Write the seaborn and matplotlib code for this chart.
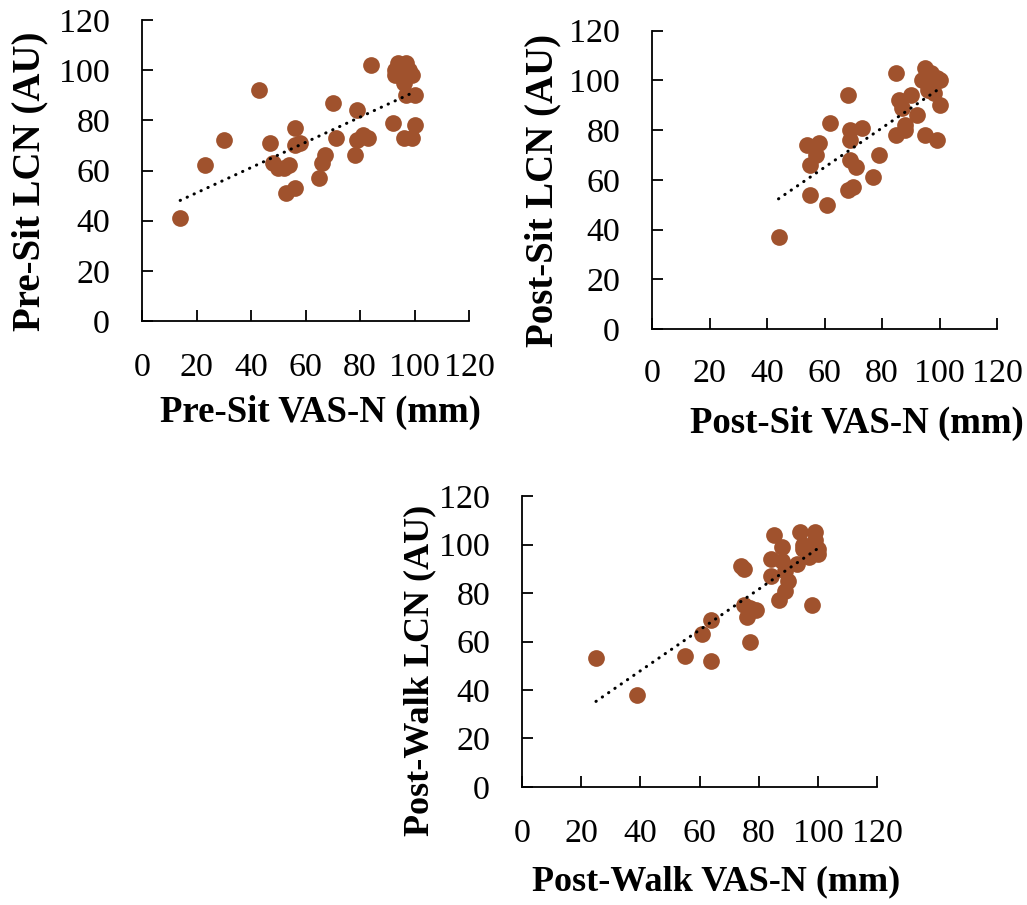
import numpy as np
import pandas as pd
import matplotlib
matplotlib.use("Agg")
import matplotlib.pyplot as plt
import seaborn as sns

# values
pre_sit_vas = [14, 23, 30, 43, 47, 48, 50, 52, 54, 53, 56, 56, 56, 58, 65, 66, 67, 70,
               71, 78, 79, 79, 81, 83, 84, 92, 94, 93, 93, 97, 98, 99, 96, 97, 100, 96,
               99, 100, 96, 94]
pre_sit_lcn = [41, 62, 72, 92, 71, 63, 61, 61, 62, 51, 53, 77, 70, 71, 57, 63, 66, 87,
               73, 66, 84, 72, 74, 73, 102, 79, 103, 100, 98, 103, 100, 98, 95, 90, 90, 73,
               73, 78, 99, 101]

post_sit_vas = [44, 54, 58, 57, 55, 55, 61, 62, 68, 69, 69, 69, 71, 68, 70, 73, 77, 79,
                85, 86, 87, 90, 88, 88, 85, 92, 95, 99, 100, 95, 97, 99, 94, 96, 98, 96,
                98, 100]
post_sit_lcn = [37, 74, 75, 70, 66, 54, 50, 83, 94, 80, 76, 68, 65, 56, 57, 81, 61, 70,
                103, 92, 89, 94, 82, 80, 78, 86, 78, 76, 90, 105, 103, 101, 100, 99, 99, 96,
                95, 100]

post_walk_vas = [25, 39, 55, 61, 64, 64, 74, 75, 75, 77, 79, 76, 77, 84, 84, 85, 88, 88,
                 87, 89, 90, 89, 93, 94, 98, 95, 99, 99, 100, 97, 95, 98, 100]
post_walk_lcn = [53, 38, 54, 63, 69, 52, 91, 90, 75, 74, 73, 70, 60, 87, 94, 104, 99, 93,
                 77, 81, 85, 89, 92, 105, 75, 98, 105, 102, 96, 95, 100, 99, 98]

x_ticks = [0, 20, 40, 60, 80, 100, 120]
y_ticks = [0, 20, 40, 60, 80, 100, 120]

sns.set_theme(style="ticks")
plt.rcParams["font.family"] = ["Liberation Serif", "DejaVu Serif"]

DOT = "#A0522D"

fig = plt.figure(figsize=(10.27, 9.05), dpi=100)

# data, labels, axes rect, xlabel pos, ylabel pos, xlabel size, ylabel size, x tick pad
panels = [
    (pre_sit_vas, pre_sit_lcn, "Pre-Sit VAS-N (mm)", "Pre-Sit LCN (AU)",
     [0.1383, 0.6453, 0.3184, 0.3326], (0.546, -0.245), (-0.285, 0.465), 26.5, 28, 23),
    (post_sit_vas, post_sit_lcn, "Post-Sit VAS-N (mm)", "Post-Sit LCN (AU)",
     [0.6349, 0.6365, 0.3359, 0.3296], (0.594, -0.258), (-0.262, 0.463), 26.5, 28, 21.5),
    (post_walk_vas, post_walk_lcn, "Post-Walk VAS-N (mm)", "Post-Walk LCN (AU)",
     [0.5083, 0.1304, 0.3457, 0.3215], (0.546, -0.268), (-0.24, 0.402), 26, 26, 23),
]

for vas, lcn, xlab, ylab, rect, xl_pos, yl_pos, xl_size, yl_size, xpad in panels:
    ax = fig.add_axes(rect)
    df = pd.DataFrame({"vas": vas, "lcn": lcn})
    sns.scatterplot(data=df, x="vas", y="lcn", ax=ax, color=DOT, s=145,
                    linewidth=0, zorder=3)
    sns.regplot(data=df, x="vas", y="lcn", ax=ax, scatter=False, ci=None,
                truncate=True,
                line_kws=dict(color="black", lw=2.2, linestyle=(0, (0.1, 2.4)),
                              dash_capstyle="round", zorder=4))
    ax.set_xlim(0, 120)
    ax.set_ylim(0, 120)
    ax.set_xticks(x_ticks)
    ax.set_yticks(y_ticks)
    ax.tick_params(axis="both", direction="in", length=8, width=1.3, color="black",
                   labelsize=24.5, labelcolor="black")
    ax.tick_params(axis="x", pad=xpad)
    ax.tick_params(axis="y", pad=23)
    for side in ["left", "bottom"]:
        ax.spines[side].set_color("black")
        ax.spines[side].set_linewidth(1.3)
    sns.despine(ax=ax)
    ax.set_xlabel(xlab, fontsize=xl_size, fontweight="bold", color="black")
    ax.set_ylabel(ylab, fontsize=yl_size, fontweight="bold", color="black")
    ax.xaxis.set_label_coords(*xl_pos)
    ax.yaxis.set_label_coords(*yl_pos)

fig.savefig("out.png", dpi=100)
